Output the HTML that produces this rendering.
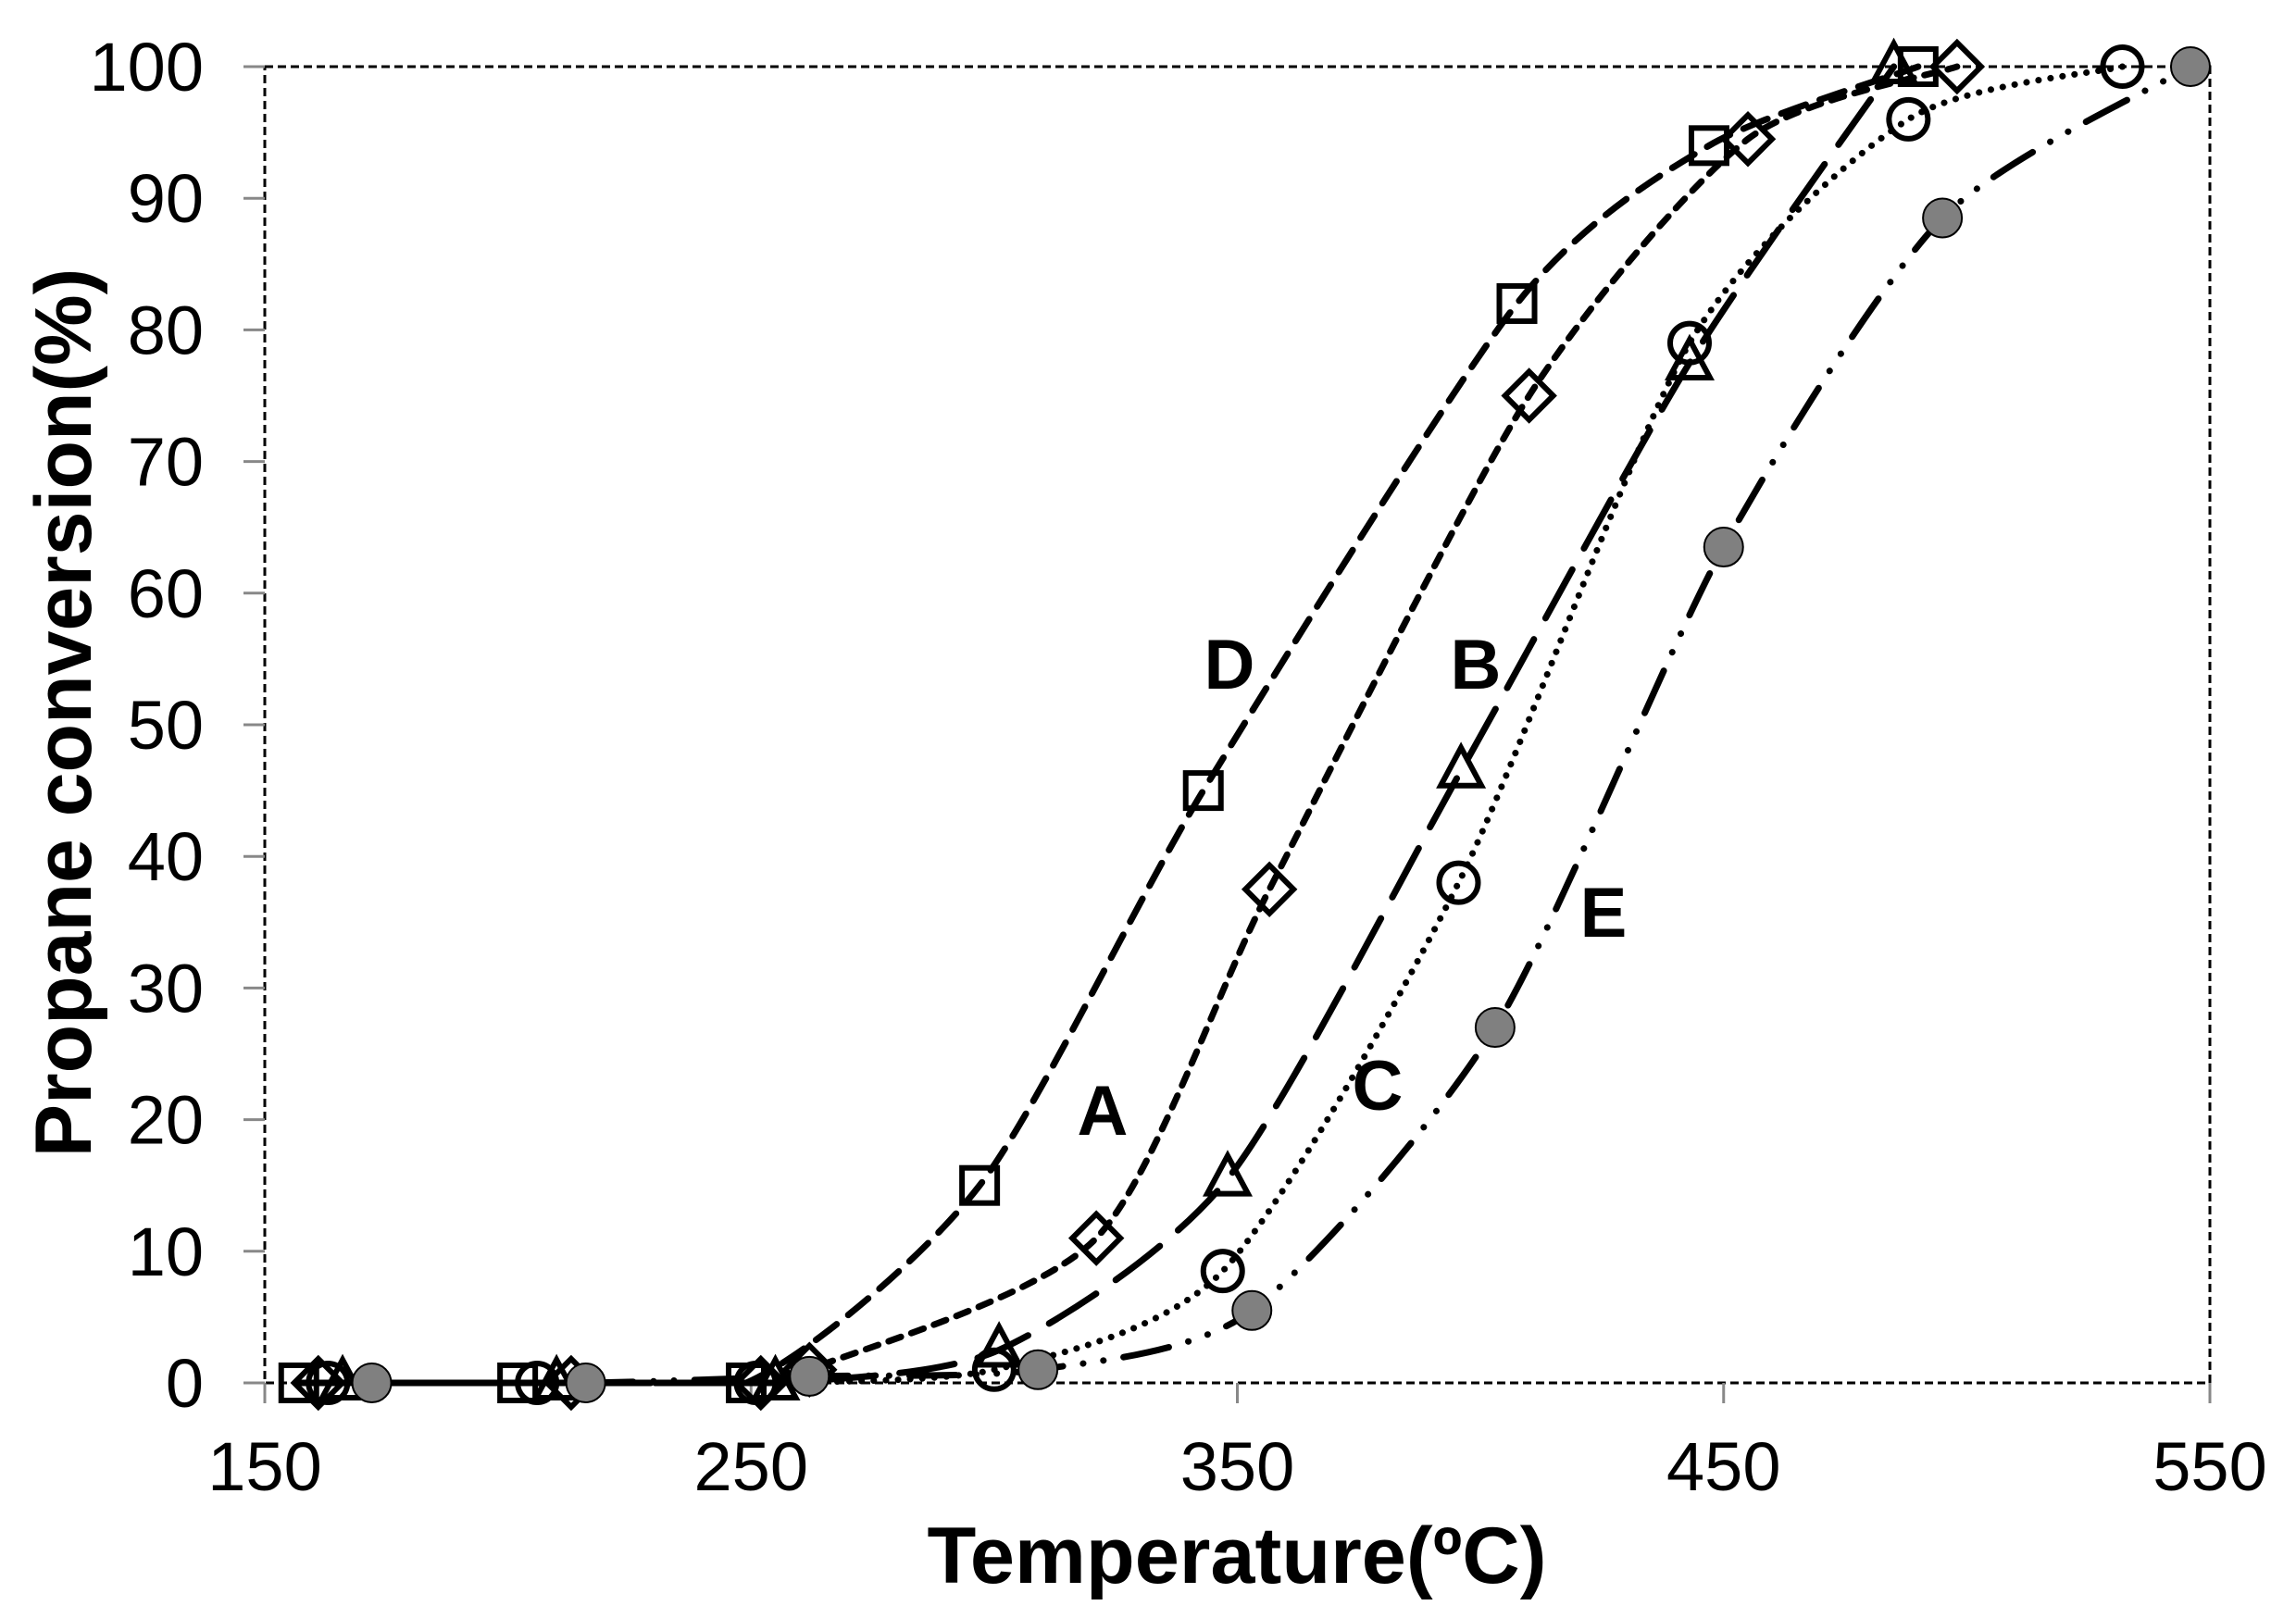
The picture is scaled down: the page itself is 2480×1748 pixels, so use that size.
<!DOCTYPE html>
<html><head><meta charset="utf-8"><style>html,body{margin:0;padding:0;background:#fff}svg{display:block}</style></head>
<body>
<svg id="s" width="2480" height="1748" viewBox="0 0 2480 1748" xmlns="http://www.w3.org/2000/svg" font-family="Liberation Sans, sans-serif">
<rect width="2480" height="1748" fill="#fff"/>
<rect x="286" y="72" width="2101" height="1422" fill="none" stroke="#000" stroke-width="3" stroke-dasharray="9,5"/>
<g id="ax"></g>
<g id="lines" fill="none" stroke="#000" stroke-width="7" stroke-linecap="round"></g>
<g id="marks"></g>
<text x="1336" y="1710" font-size="86" font-weight="bold" text-anchor="middle" textLength="669" lengthAdjust="spacingAndGlyphs">Temperature(ºC)</text>
<text transform="translate(98,770) rotate(-90)" font-size="86" font-weight="bold" text-anchor="middle">Propane conversion(%)</text>
<g font-size="76" font-weight="bold" text-anchor="middle">
<text x="1328" y="744">D</text>
<text x="1594" y="744">B</text>
<text x="1191" y="1226">A</text>
<text x="1488" y="1199">C</text>
<text x="1732" y="1012">E</text>
</g>
</svg>
<script>
const X=t=>286+(t-150)*2101/400, Y=v=>1494-v*14.22;
const ns="http://www.w3.org/2000/svg";
function el(p,n,a,txt){const e=document.createElementNS(ns,n);for(const k in a)e.setAttribute(k,a[k]);if(txt!==undefined)e.textContent=txt;document.getElementById(p).appendChild(e);return e;}
for(let v=0;v<=100;v+=10){el('ax','line',{x1:263,x2:286,y1:Y(v),y2:Y(v),stroke:'#888','stroke-width':3});
el('ax','text',{x:220,y:Y(v)+26,'font-size':74,'text-anchor':'end'},String(v));}
for(let t=150;t<=550;t+=100){el('ax','line',{x1:X(t),x2:X(t),y1:1494,y2:1516,stroke:'#888','stroke-width':3});
el('ax','text',{x:X(t),y:1610,'font-size':74,'text-anchor':'middle'},String(t));}
const S={
D:{p:[[157,0],[202,0],[249,0],[297,15],[343,45],[407.5,82],[447,94],[490,100]],d:'28,16',m:'sq'},
A:{p:[[161,0],[213,0],[252,0],[262,1],[321,11],[356.6,37.5],[410,75],[455,94.5],[498,100]],d:'14,12',m:'di'},
B:{p:[[166,0],[210,0],[255,0],[301,2.5],[348,15.5],[396,46.5],[443,77.5],[485,100]],d:'60,26',m:'tr'},
C:{p:[[163,0],[206,0],[251,0],[300,1],[347,8.5],[395.5,38],[443,79],[488,96],[532,100]],d:'0.1,13',m:'ci'},
E:{p:[[172,0],[216,0],[262,0.5],[309,1],[353,5.5],[403,27],[450,63.5],[495,88.5],[546,100]],d:'50,22,0.1,22,0.1,22',m:'fc'}};
const cy=y=>Math.min(Y(0),Math.max(Y(100),y));
function path(pts){pts=pts.map(([t,v])=>[X(t),Y(v)]);let d='M'+pts[0];for(let i=0;i<pts.length-1;i++){const p0=pts[i-1]||pts[i],p1=pts[i],p2=pts[i+1],p3=pts[i+2]||p2;const k=8;
d+=` C${p1[0]+(p2[0]-p0[0])/k},${cy(p1[1]+(p2[1]-p0[1])/k)} ${p2[0]-(p3[0]-p1[0])/k},${cy(p2[1]-(p3[1]-p1[1])/k)} ${p2[0]},${p2[1]}`;}return d;}
for(const k of ['E','C','B','A','D']){const s=S[k];
el('lines','path',{d:path(s.p),'stroke-dasharray':s.d});
el('lines','path',{d:`M${X(s.p[0][0])},${Y(0)} L${X(s.p[1][0])},${Y(0)}`,'stroke-dasharray':'none'});}
for(const k of ['D','A','B','C','E']){const s=S[k];for(const [t,v] of s.p){const x=X(t),y=Y(v);
if(s.m=='sq')el('marks','rect',{x:x-19,y:y-19,width:38,height:38,fill:'none',stroke:'#000','stroke-width':6});
if(s.m=='di')el('marks','polygon',{points:`${x},${y-26} ${x+26},${y} ${x},${y+26} ${x-26},${y}`,fill:'none',stroke:'#000','stroke-width':6});
if(s.m=='tr')el('marks','polygon',{points:`${x},${y-25} ${x+22},${y+16} ${x-22},${y+16}`,fill:'none',stroke:'#000','stroke-width':6});
if(s.m=='ci')el('marks','circle',{cx:x,cy:y,r:21,fill:'none',stroke:'#000','stroke-width':6});
if(s.m=='fc')el('marks','circle',{cx:x,cy:y,r:21,fill:'#808080',stroke:'#000','stroke-width':2});}}
</script>
</body></html>
